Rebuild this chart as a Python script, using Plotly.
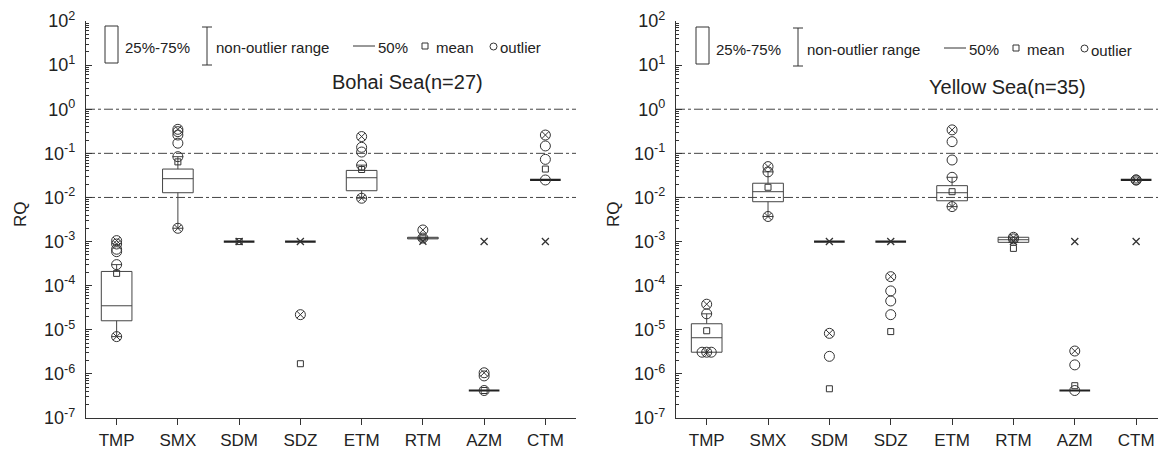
import plotly.graph_objects as go

# ---------------- data ----------------
categories = ["TMP", "SMX", "SDM", "SDZ", "ETM", "RTM", "AZM", "CTM"]
tick_exponents = [-7, -6, -5, -4, -3, -2, -1, 0, 1, 2]
thresholds = [1, 0.1, 0.01]

# Bohai Sea (n=27)
bohai_q1 = [1.6e-5, 0.0128, 1e-3, 1e-3, 0.0142, 1.15e-3, 4.2e-7, 0.0249]
bohai_median = [3.5e-5, 0.0266, 1e-3, 1e-3, 0.028, 1.2e-3, 4.2e-7, 0.0249]
bohai_q3 = [2.1e-4, 0.044, 1e-3, 1e-3, 0.041, 1.25e-3, 4.2e-7, 0.0249]
bohai_low = [7e-6, 2.0e-3, 1e-3, 1e-3, 0.0096, 1.15e-3, 4.2e-7, 0.0249]
bohai_high = [3.0e-4, 0.084, 1e-3, 1e-3, 0.054, 1.25e-3, 4.2e-7, 0.0249]
bohai_mean = [1.9e-4, 0.064, 1e-3, 1.7e-6, 0.043, 1.2e-3, 4.2e-7, 0.044]
bohai_outliers = [[3.0e-4, 5.9e-4, 6.7e-4], [0.084, 0.17, 0.26, 0.31], [], [],
                  [0.054, 0.107, 0.137], [1.2e-3], [4.2e-7, 9e-7], [0.0249, 0.073, 0.147]]
bohai_extremes = [[8.8e-4, 1.05e-3, 7e-6], [0.35, 2.0e-3], [], [2.2e-5],
                  [0.24, 0.0096], [1.83e-3], [1.06e-6], [0.26]]
bohai_pct = [[], [], [1e-3], [1e-3], [], [1.02e-3], [1e-3], [1e-3]]

# Yellow Sea (n=35)
yellow_q1 = [3.1e-6, 0.008, 1e-3, 1e-3, 0.0084, 9.6e-4, 4.2e-7, 0.0249]
yellow_median = [6.6e-6, 0.0135, 1e-3, 1e-3, 0.0128, 1.1e-3, 4.2e-7, 0.0249]
yellow_q3 = [1.37e-5, 0.021, 1e-3, 1e-3, 0.0185, 1.25e-3, 4.2e-7, 0.0249]
yellow_low = [3.1e-6, 0.0037, 1e-3, 1e-3, 0.0062, 9.6e-4, 4.2e-7, 0.0249]
yellow_high = [2.3e-5, 0.038, 1e-3, 1e-3, 0.0286, 1.25e-3, 4.2e-7, 0.0249]
yellow_mean = [9.5e-6, 0.017, 4.6e-7, 9.1e-6, 0.0135, 7e-4, 5.4e-7, 0.0249]
yellow_outliers = [[2.3e-5], [0.038], [2.5e-6], [7.6e-5, 4.5e-5, 2.2e-5],
                   [0.0286, 0.0706, 0.184], [1.15e-3], [1.6e-6, 4.2e-7], [0.0249]]
yellow_extremes = [[3.8e-5, 3.1e-6], [0.05, 0.0037], [8.3e-6], [1.6e-4],
                   [0.34, 0.0062], [1.25e-3], [3.3e-6], [0.0249]]
yellow_pct = [[], [], [1e-3], [1e-3], [], [1e-3], [1e-3], [1e-3]]
# side-by-side circles at the lower end of the Yellow Sea TMP box
yellow_tmp_low_circles = [3.1e-6, 3.1e-6]
yellow_tmp_low_jitter = [-0.075, 0.075]

panel_titles = ["Bohai Sea(n=27)", "Yellow Sea(n=35)"]

# ---------------- style / layout helpers ----------------
W, H = 1158, 449
FONT = "Arial, 'Liberation Sans', sans-serif"
INK = "#333333"
TXT = "#222222"


def px(x):
    return x / W


def py(y):
    return 1 - y / H


fig = go.Figure()

panels = [
    dict(xa="x", ya="y", q1=bohai_q1, med=bohai_median, q3=bohai_q3, lo=bohai_low,
         hi=bohai_high, mean=bohai_mean, out=bohai_outliers, ext=bohai_extremes,
         pct=bohai_pct, xr=[-0.5, 7.5]),
    dict(xa="x2", ya="y2", q1=yellow_q1, med=yellow_median, q3=yellow_q3, lo=yellow_low,
         hi=yellow_high, mean=yellow_mean, out=yellow_outliers, ext=yellow_extremes,
         pct=yellow_pct, xr=[-0.5, -0.5 + 482 / 61.35]),
]

for p in panels:
    # threshold dash-dot lines
    for t in thresholds:
        fig.add_trace(go.Scatter(x=p["xr"], y=[t, t], mode="lines",
                                 line=dict(color="#444444", width=1, dash="dashdot"),
                                 xaxis=p["xa"], yaxis=p["ya"], hoverinfo="skip",
                                 showlegend=False))
    for i, c in enumerate(categories):
        flat = p["q1"][i] == p["q3"][i] == p["med"][i]
        fig.add_trace(go.Box(x=[i], q1=[p["q1"][i]], median=[p["med"][i]],
                             q3=[p["q3"][i]], lowerfence=[p["lo"][i]],
                             upperfence=[p["hi"][i]], width=0.5, whiskerwidth=0.35,
                             fillcolor="rgba(0,0,0,0)",
                             line=dict(color="#222222" if flat else "#444444",
                                       width=2.2 if flat else 1),
                             boxpoints=False, hoverinfo="skip", showlegend=False,
                             xaxis=p["xa"], yaxis=p["ya"]))
        if p["out"][i]:
            fig.add_trace(go.Scatter(x=[i] * len(p["out"][i]), y=p["out"][i], mode="markers",
                                     marker=dict(symbol="circle-open", size=10,
                                                 color=INK, line=dict(width=1)),
                                     xaxis=p["xa"], yaxis=p["ya"], hoverinfo="skip",
                                     showlegend=False))
        if p["ext"][i]:
            fig.add_trace(go.Scatter(x=[i] * len(p["ext"][i]), y=p["ext"][i], mode="markers",
                                     marker=dict(symbol="circle-x-open", size=10,
                                                 color=INK, line=dict(width=1)),
                                     xaxis=p["xa"], yaxis=p["ya"], hoverinfo="skip",
                                     showlegend=False))
        if p["pct"][i]:
            fig.add_trace(go.Scatter(x=[i] * len(p["pct"][i]), y=p["pct"][i], mode="markers",
                                     marker=dict(symbol="x-thin-open", size=7,
                                                 color=INK, line=dict(width=1.3)),
                                     xaxis=p["xa"], yaxis=p["ya"], hoverinfo="skip",
                                     showlegend=False))
        fig.add_trace(go.Scatter(x=[i], y=[p["mean"][i]], mode="markers",
                                 marker=dict(symbol="square-open", size=6, color=INK,
                                             line=dict(width=1)),
                                 xaxis=p["xa"], yaxis=p["ya"], hoverinfo="skip",
                                 showlegend=False))

# jittered circles for Yellow Sea TMP
fig.add_trace(go.Scatter(x=[0 + j for j in yellow_tmp_low_jitter], y=yellow_tmp_low_circles,
                         mode="markers",
                         marker=dict(symbol="circle-open", size=10, color=INK, line=dict(width=1)),
                         xaxis="x2", yaxis="y2", hoverinfo="skip", showlegend=False))

ydom = [31 / H, 428 / H]
xdom1 = [86 / W, 576 / W]
xdom2 = [676 / W, 1.0]

tickvals = [10.0 ** e for e in tick_exponents]
ticktext = ["10<sup>%d</sup>" % e for e in tick_exponents]
minor_vals = [k * 10.0 ** e for e in tick_exponents[:-1] for k in range(2, 10)]

yaxis_common = dict(type="log", range=[-7, 2], domain=ydom, showline=True, linecolor=INK,
                    linewidth=1.3, ticks="inside", ticklen=6, tickcolor=INK,
                    tickmode="array", tickvals=tickvals, ticktext=ticktext,
                    minor=dict(ticks="inside", ticklen=3, tickcolor=INK, tickmode="array",
                               tickvals=minor_vals, showgrid=False),
                    showgrid=False, zeroline=False, automargin=False, ticklabelstandoff=6,
                    tickfont=dict(family=FONT, size=18, color=TXT))
xaxis_common = dict(showline=True, linecolor=INK, linewidth=1.3, ticks="outside", ticklen=6,
                    tickcolor=INK, tickmode="array", tickvals=list(range(len(categories))),
                    ticktext=categories, showgrid=False, zeroline=False, automargin=False,
                    tickfont=dict(family=FONT, size=17, color=TXT))
top_common = dict(side="top", showline=True, linecolor=INK, linewidth=1.3, ticks="inside",
                  ticklen=5, tickcolor=INK, dtick=1, tick0=0, showticklabels=False,
                  showgrid=False, zeroline=False, automargin=False)

fig.update_layout(
    template="none",
    width=W, height=H, margin=dict(l=0, r=0, t=0, b=0, pad=0),
    paper_bgcolor="white", plot_bgcolor="white", showlegend=False,
    xaxis=dict(domain=xdom1, anchor="y", range=panels[0]["xr"], **xaxis_common),
    xaxis2=dict(domain=xdom2, anchor="y2", range=panels[1]["xr"], **xaxis_common),
    yaxis=dict(anchor="x", **yaxis_common),
    yaxis2=dict(anchor="x2", **yaxis_common),
    xaxis3=dict(overlaying="x", anchor="y", range=[0, 10], **top_common),
    xaxis4=dict(overlaying="x2", anchor="y2", range=[0, 10 * 482 / 491], **top_common),
    yaxis3=dict(overlaying="y", anchor="x", side="right", range=[0, 10], dtick=1, tick0=0,
                showline=True, linecolor=INK, linewidth=1.3, ticks="inside", ticklen=5,
                tickcolor=INK, showticklabels=False, showgrid=False, zeroline=False,
                automargin=False),
)

# ---------------- in-plot legend, titles, axis titles ----------------
shapes = []
annotations = []
legend_font = dict(family=FONT, size=15, color=TXT)
for k, off in enumerate([0, 591]):
    ybase = 47 + 2 * k
    # box symbol
    shapes.append(dict(type="rect", xref="paper", yref="paper",
                       x0=px(105 + off), x1=px(118 + off), y0=py(26 + k), y1=py(63 + k),
                       line=dict(color=INK, width=1)))
    annotations.append(dict(text="25%-75%", x=px(123 + off), y=py(ybase), xref="paper",
                            yref="paper", xanchor="left", yanchor="middle", showarrow=False,
                            font=legend_font))
    # whisker symbol
    ex = 207 + off
    shapes.append(dict(type="line", xref="paper", yref="paper", x0=px(ex), x1=px(ex),
                       y0=py(27 + k), y1=py(65 + k), line=dict(color=INK, width=1)))
    for yy in (27 + k, 65 + k):
        shapes.append(dict(type="line", xref="paper", yref="paper", x0=px(ex - 5),
                           x1=px(ex + 5), y0=py(yy), y1=py(yy), line=dict(color=INK, width=1)))
    annotations.append(dict(text="non-outlier range", x=px(214 + off), y=py(ybase),
                            xref="paper", yref="paper", xanchor="left", yanchor="middle",
                            showarrow=False, font=legend_font))
    # median symbol
    shapes.append(dict(type="line", xref="paper", yref="paper", x0=px(353 + off),
                       x1=px(375 + off), y0=py(ybase - 1), y1=py(ybase - 1),
                       line=dict(color=INK, width=1)))
    annotations.append(dict(text="50%", x=px(376 + off), y=py(ybase), xref="paper",
                            yref="paper", xanchor="left", yanchor="middle", showarrow=False,
                            font=legend_font))
    # mean symbol
    shapes.append(dict(type="rect", xref="paper", yref="paper", x0=px(422 + off),
                       x1=px(428 + off), y0=py(ybase - 4), y1=py(ybase + 2),
                       line=dict(color=INK, width=1)))
    annotations.append(dict(text="mean", x=px(434 + off), y=py(ybase), xref="paper",
                            yref="paper", xanchor="left", yanchor="middle", showarrow=False,
                            font=legend_font))
    # outlier symbol
    shapes.append(dict(type="circle", xref="paper", yref="paper", x0=px(490 + off),
                       x1=px(497 + off), y0=py(ybase - 4), y1=py(ybase + 3),
                       line=dict(color=INK, width=1)))
    annotations.append(dict(text="outlier", x=px(498 + off), y=py(ybase + 1), xref="paper",
                            yref="paper", xanchor="left", yanchor="middle", showarrow=False,
                            font=legend_font))

annotations.append(dict(text=panel_titles[0], x=px(407), y=py(82), xref="paper", yref="paper",
                        xanchor="center", yanchor="middle", showarrow=False,
                        font=dict(family=FONT, size=20, color=TXT)))
annotations.append(dict(text=panel_titles[1], x=px(1007), y=py(87), xref="paper",
                        yref="paper", xanchor="center", yanchor="middle", showarrow=False,
                        font=dict(family=FONT, size=20, color=TXT)))
for xx in (20, 613):
    annotations.append(dict(text="RQ", x=px(xx), y=py(214), xref="paper", yref="paper",
                            xanchor="center", yanchor="middle", showarrow=False, textangle=-90,
                            font=dict(family=FONT, size=17, color=TXT)))

fig.update_layout(shapes=shapes, annotations=annotations)

fig.write_html("out.html", config={"displayModeBar": False},
               post_script="document.body.style.margin='0px';document.body.style.overflow='hidden';")
